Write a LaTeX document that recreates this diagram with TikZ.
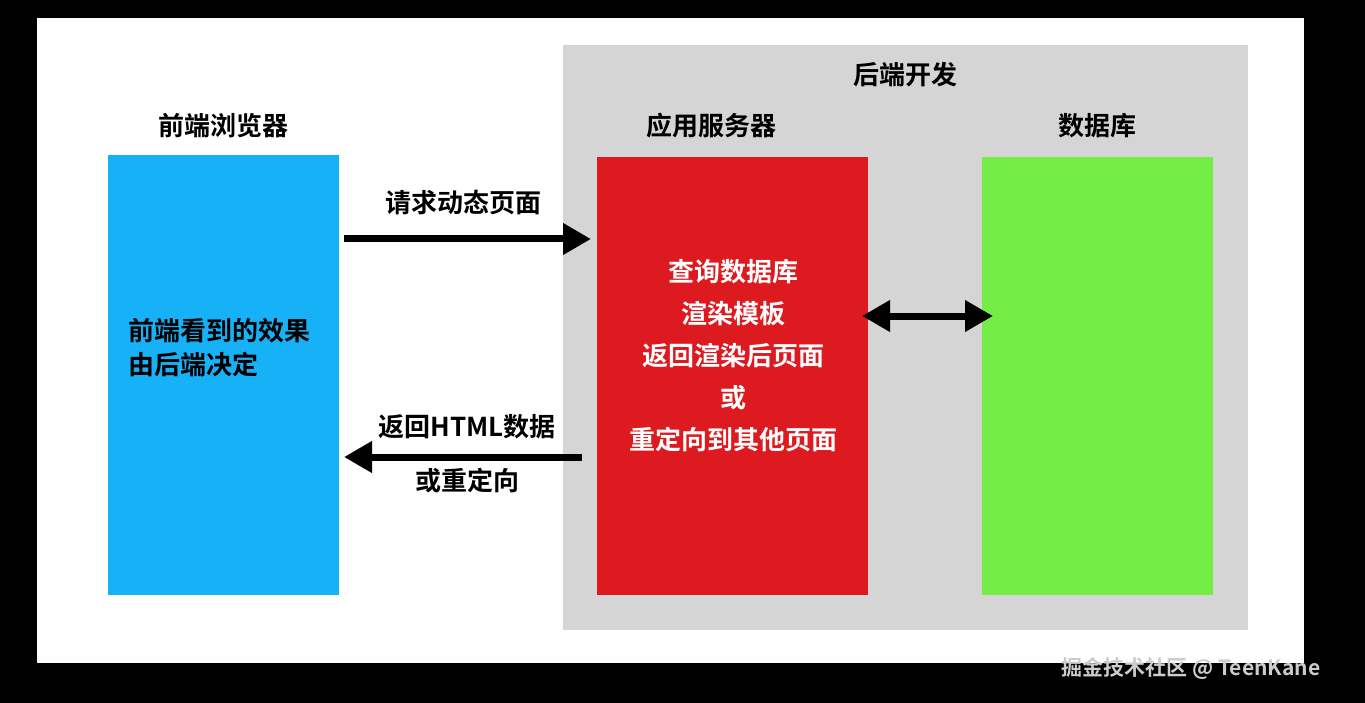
\documentclass[tikz,border=0pt]{standalone}
\usepackage{fontspec}
\newfontfamily\cjk{Noto Sans CJK SC Bold}
\usetikzlibrary{arrows.meta}
\definecolor{bblue}{HTML}{16B1F7}
\definecolor{rred}{HTML}{DD1A1F}
\definecolor{ggreen}{HTML}{74EE47}
\definecolor{ggray}{HTML}{D5D5D5}
\begin{document}
\begin{tikzpicture}[x=1pt,y=-1pt,
  lab/.style={font=\cjk\fontsize{26}{34}\selectfont,text=black,inner sep=0},
  arr/.style={line width=7pt,-{Triangle[length=28pt,width=30pt]}},
  box/.style={draw=none,inner sep=0}]
\fill[black] (0,0) rectangle (1365,703);
\useasboundingbox (0,0) rectangle (1365,703);
\fill[white] (37,18) rectangle (1304,663);
\fill[ggray] (563,45) rectangle (1248,630);
\node[box,fill=bblue,minimum width=231pt,minimum height=440pt] (fe) at (223.5,375) {};
\node[box,fill=rred,minimum width=271pt,minimum height=438pt] (app) at (732.5,376) {};
\node[box,fill=ggreen,minimum width=231pt,minimum height=438pt] (db) at (1097.5,376) {};
\node[lab] (t0) at (905,75) {后端开发};
\node[lab] (t1) at (223,126) {前端浏览器};
\node[lab] (t2) at (711,126) {应用服务器};
\node[lab] (t3) at (1097,126) {数据库};
\node[lab,align=left] (ft) at (219,348) {前端看到的效果\\由后端决定};
\node[lab,text=white,align=center,font=\cjk\fontsize{26}{42}\selectfont] (at) at (733,356) {查询数据库\\渲染模板\\返回渲染后页面\\或\\重定向到其他页面};
\node[lab] (q) at (463,203) {请求动态页面};
\node[lab,align=center,font=\cjk\fontsize{26}{54}\selectfont] (r) at (467,454) {返回HTML数据\\或重定向};
\coordinate (a1) at (344,239); \coordinate (a2) at (591,239);
\coordinate (b1) at (582,457); \coordinate (b2) at (344,457);
\draw[arr] (a1) -- (a2);
\draw[arr] (b1) -- (b2);
\coordinate (c1) at (862,316); \coordinate (c2) at (993,316);
\draw[line width=7pt,{Triangle[length=28pt,width=30pt]}-{Triangle[length=28pt,width=30pt]}] (c1) -- (c2);
\node[font=\cjk\fontsize{21}{24}\selectfont,text=white!80!black,inner sep=0] (wm) at (1191,668) {掘金技术社区 @ TeenKane};
\end{tikzpicture}
\end{document}
